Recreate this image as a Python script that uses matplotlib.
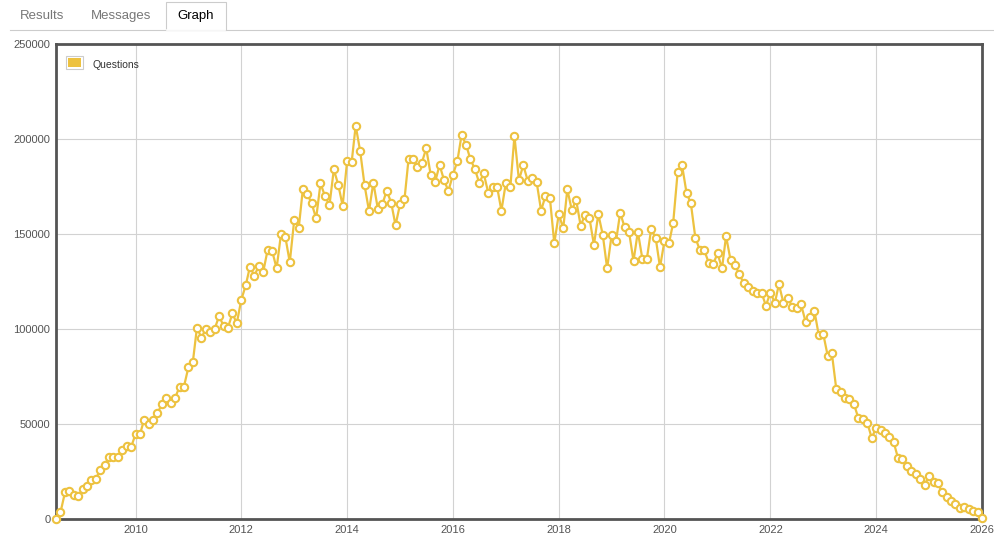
import numpy as np
import pandas as pd
import matplotlib
matplotlib.use("Agg")
import matplotlib.pyplot as plt
import matplotlib.dates as mdates
from matplotlib.lines import Line2D
from matplotlib.patches import Rectangle

plt.rcParams['font.family'] = ['Liberation Sans', 'DejaVu Sans']

# monthly question counts, starting 2008-07
questions = [
    4, 3500, 14000, 14600, 12600, 12000, 15600, 17500, 20500, 21000,
    25600, 28400, 32500, 32500, 32800, 36300, 38600, 37700, 44700, 44700,
    52100, 50000, 52100, 55600, 60300, 63700, 60900, 63700, 69600, 69600,
    79800, 82800, 100700, 95400, 100000, 98600, 100000, 106800, 101600, 100700,
    108200, 103000, 115300, 123000, 132800, 127900, 133400, 130200, 141600, 141200,
    131900, 149800, 148200, 135100, 157600, 153300, 173500, 171000, 166100, 158200,
    176600, 170000, 165100, 184000, 175800, 164900, 188500, 187700, 207000, 193600,
    175800, 162100, 177100, 163200, 165600, 172800, 166500, 154600, 165600, 168300,
    189500, 189500, 185400, 187600, 195100, 181100, 177500, 186300, 178400, 172600,
    181100, 188400, 202100, 197000, 189300, 184200, 176800, 181900, 171700, 174900,
    174900, 162300, 177000, 174900, 201600, 178300, 186300, 177900, 179300, 177500,
    162300, 170000, 168800, 145100, 160400, 153000, 173500, 162600, 167900, 154400,
    160000, 158300, 144200, 160500, 149500, 131900, 149500, 146500, 161200, 153500,
    151200, 135800, 151200, 137000, 136800, 152600, 148000, 132500, 146500, 145100,
    155900, 182800, 186300, 171700, 166100, 148000, 141600, 141600, 134900, 134000,
    139800, 131900, 148900, 136300, 133700, 128900, 124000, 122300, 120000, 119100,
    119100, 112300, 119100, 113800, 123500, 113800, 116500, 111700, 111200, 112900,
    103800, 106500, 109500, 96800, 97400, 85800, 87500, 68400, 66700, 63800,
    63000, 60400, 53000, 52600, 50700, 42800, 47700, 46800, 45100, 43000,
    40400, 31900, 31600, 28100, 25300, 23500, 20900, 17900, 22800, 19300,
    19100, 14000, 11700, 9600, 8000, 5600, 6200, 5300, 4400, 3800,
    350,
]
months = pd.date_range('2008-07-01', periods=len(questions), freq='MS')

series_label = 'Questions'
tab_labels = ['Results', 'Messages', 'Graph']
y_ticks = [0, 50000, 100000, 150000, 200000, 250000]
x_tick_years = list(range(2010, 2027, 2))

gold = '#edc240'
text_col = '#545454'

W, H = 995, 540
fig = plt.figure(figsize=(W / 100, H / 100), dpi=100)

# tab strip at the top
fig.add_artist(Line2D([10 / W, 1], [1 - 30 / H] * 2, color='#cccccc', lw=0.8))
fig.add_artist(Rectangle((166 / W, 1 - 30 / H), 60 / W, 28 / H, facecolor='white',
                         edgecolor='#cccccc', lw=0.8, transform=fig.transFigure))
fig.add_artist(Line2D([166.5 / W, 225.5 / W], [1 - 30 / H] * 2, color='white', lw=1.2))
tab_x = [42, 121, 196]
for lbl, tx in zip(tab_labels, tab_x):
    fig.text(tx / W, 1 - 16 / H, lbl, ha='center', va='center', fontsize=9.5,
             color='black' if lbl == 'Graph' else '#777777')

ax = fig.add_axes([56 / W, 21 / H, 926 / W, 475 / H])
ax.plot(months, questions, color=gold, lw=1.6, marker='o', markersize=5.3,
        markerfacecolor='white', markeredgecolor=gold, markeredgewidth=1.5,
        label=series_label, zorder=3, clip_on=False)

ax.set_xlim(months[0], months[-1])
ax.set_ylim(0, 250000)
ax.set_yticks(y_ticks)
ax.set_yticklabels([str(v) for v in y_ticks])
ax.set_xticks([pd.Timestamp(f'{y}-01-01') for y in x_tick_years])
ax.xaxis.set_major_formatter(mdates.DateFormatter('%Y'))
ax.tick_params(length=0, labelsize=8, colors=text_col, pad=4)
ax.grid(True, color='#d2d2d2', lw=0.8)
ax.set_axisbelow(True)
for s in ax.spines.values():
    s.set_color('#545454')
    s.set_linewidth(2)

# legend box with square swatch
fig.add_artist(Rectangle((66 / W, 1 - 69 / H), 17 / W, 13 / H, facecolor='white',
                         edgecolor='#cccccc', lw=0.8, transform=fig.transFigure))
fig.add_artist(Rectangle((68 / W, 1 - 67 / H), 13 / W, 9 / H, facecolor=gold,
                         edgecolor='none', transform=fig.transFigure))
fig.text(93 / W, 1 - 64.5 / H, series_label, ha='left', va='center', fontsize=7.5,
         color='#333333')

fig.savefig('out.png', dpi=100)
